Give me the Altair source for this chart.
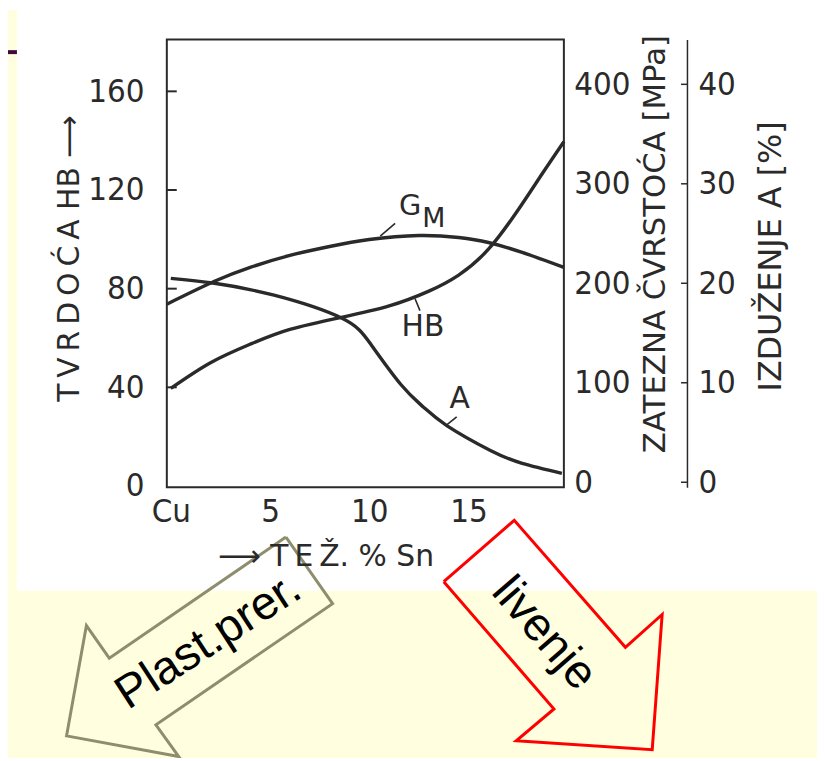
import altair as alt
import pandas as pd

# ---------------- data ----------------
# HB hardness (left axis)
sn_hb = [0.0, 2.0, 4.0, 6.0, 8.6, 11.0, 13.0, 14.5, 16.0, 17.5, 18.7, 19.8]
hb = [39.6, 50.0, 57.5, 63.5, 68.4, 73.0, 79.0, 85.5, 96.0, 112.0, 126.5, 139.6]
# tensile strength sigma_M in MPa (first right axis)
sn_gm = [-0.2, 2.2, 4.0, 6.0, 8.0, 10.0, 12.5, 14.5, 16.0, 17.7, 19.8]
gm = [179, 202, 216, 228, 237, 244, 248, 246, 241, 231, 216]
# elongation A in % (second right axis)
sn_a = [0.0, 2.2, 5.2, 8.6, 10.1, 11.6, 12.7, 13.9, 16.1, 17.7, 19.7]
a_pct = [20.5, 20.0, 18.8, 16.5, 13.8, 9.8, 7.6, 5.7, 3.2, 1.9, 0.9]

# axes
x_ticks = [0, 5, 10, 15]
hb_ticks = [0, 40, 80, 120, 160]
mpa_ticks = [0, 100, 200, 300, 400]
a_ticks = [0, 10, 20, 30, 40]

# curve labels (HB-axis units)
lab_text = ["G", "M", "HB", "A"]
lab_x = [12.05, 13.25, 12.7, 14.55]
lab_y = [113.4, 108.2, 64.3, 35.1]
lab_size = [29, 27, 30, 30]

# leader strokes of the curve labels
lead_x = [10.55, 12.3, 13.9]
lead_y = [101.3, 76.0, 24.8]
lead_x2 = [11.3, 12.55, 14.4]
lead_y2 = [106.5, 71.1, 28.0]

# ---------------- slide decorations (annotation geometry, HB-axis units) -----
bg_x = [-8.2, -8.2]
bg_x2 = [-7.75, 32.7]
bg_y = [193.0, -42.5]
bg_y2 = [-42.5, -112.0]
pl_x = [-8.2, -7.75]
pl_y = [175.9, 175.9]
ar1_x = [5.8, 8.15, -0.75, 0.4, -5.25, -4.25, -3.1, 5.8]
ar1_y = [-20.7, -47.7, -96.8, -109.7, -101.3, -56.6, -69.8, -20.7]
ar2_x = [13.75, 17.3, 22.9, 24.75, 24.25, 17.4, 19.3, 13.75]
ar2_y = [-38.8, -13.9, -65.4, -52.1, -106.9, -103.3, -90.4, -38.8]
arrow_text = ["Plast.prer.", "livenje"]
arrow_text_x = [1.9, 18.8]
arrow_text_y = [-63.0, -59.8]
arrow_text_angle = [327, 49]

# ---------------- tables ----------------
df_hb = pd.DataFrame({"x": sn_hb, "y": hb})
df_gm = pd.DataFrame({"x": sn_gm, "y": gm})
df_a = pd.DataFrame({"x": sn_a, "y": a_pct})
df_lab = pd.DataFrame({"x": lab_x, "y": lab_y, "t": lab_text, "s": lab_size})
df_lead = pd.DataFrame({"x": lead_x, "y": lead_y, "x2": lead_x2, "y2": lead_y2})
df_bg = pd.DataFrame({"x": bg_x, "x2": bg_x2, "y": bg_y, "y2": bg_y2})
df_pl = pd.DataFrame({"x": pl_x, "y": pl_y})
df_ar1 = pd.DataFrame({"x": ar1_x, "y": ar1_y, "o": list(range(len(ar1_x)))})
df_ar2 = pd.DataFrame({"x": ar2_x, "y": ar2_y, "o": list(range(len(ar2_x)))})
df_hbt = pd.DataFrame({"x": [-0.2] * 4, "x2": [0.3] * 4, "y": hb_ticks[1:]})
df_at = pd.DataFrame({"x": [25.7] * 5, "x2": [26.0] * 5, "y": a_ticks})
df_atxt0 = pd.DataFrame({"x": [arrow_text_x[0]], "y": [arrow_text_y[0]], "t": [arrow_text[0]]})
df_atxt1 = pd.DataFrame({"x": [arrow_text_x[1]], "y": [arrow_text_y[1]], "t": [arrow_text[1]]})

INK = "#2a2a2a"
NUMFONT = "'Liberation Sans Narrow', 'DejaVu Sans Condensed', 'DejaVu Sans', sans-serif"
TFONT = "DejaVu Sans"
TS = "\u2009"

xscale = alt.Scale(domain=[-0.2, 19.8], nice=False, zero=False)
hbscale = alt.Scale(domain=[-0.5, 181], nice=False, zero=False)
mpascale = alt.Scale(domain=[-5, 445], nice=False, zero=False)
ascale = alt.Scale(domain=[-0.5, 44.5], nice=False, zero=False)

x_axis = alt.Axis(
    values=x_ticks, labelExpr="datum.value == 0 ? 'Cu' : datum.label",
    ticks=False, tickSize=0, domain=False, grid=False, labelFlush=False,
    labelFont=NUMFONT, labelFontSize=33, labelColor=INK, labelPadding=25,
    labelBaseline="middle", labelOverlap=False,
    title="\u27f6   T" + TS + "E" + TS + "Ž.  %   Sn", titleX=160, titleY=70,
    titleAngle=0, titleAlign="center", titleBaseline="middle", titleFont=TFONT,
    titleFontSize=30, titleFontWeight="normal", titleColor=INK, zindex=1)

hb_axis = alt.Axis(
    orient="left", values=hb_ticks, ticks=False, tickSize=0, domain=False,
    grid=False, labelFont=NUMFONT, labelFontSize=33, labelColor=INK,
    labelPadding=23, labelBaseline="middle", labelOverlap=False,
    title=TS.join("TVRDOĆA") + "   HB   \u27f6",
    titleX=-98, titleY=220, titleAngle=270, titleAlign="center",
    titleBaseline="middle", titleFont=TFONT, titleFontSize=30,
    titleFontWeight="normal", titleColor=INK, zindex=1)

mpa_axis = alt.Axis(
    orient="right", values=mpa_ticks, ticks=False, tickSize=0, domain=False,
    grid=False, labelFont=NUMFONT, labelFontSize=33, labelColor=INK,
    labelPadding=10, labelBaseline="middle", labelOverlap=False,
    title="ZATEZNA  ČVRSTOĆA [MPa]", titleX=92, titleY=205.5,
    titleAngle=270, titleAlign="center", titleBaseline="middle",
    titleFont=TFONT, titleFontSize=31, titleFontWeight="normal",
    titleColor=INK, zindex=1)

a_axis = alt.Axis(
    orient="right", offset=124, values=a_ticks, ticks=False, tickSize=0,
    domain=True, domainColor=INK, domainWidth=1.5, grid=False,
    labelFont=NUMFONT, labelFontSize=33, labelColor=INK, labelPadding=11,
    labelBaseline="middle", labelOverlap=False,
    title="IZDUŽENJE   A   [%]", titleX=84, titleY=218, titleAngle=270,
    titleAlign="center", titleBaseline="middle", titleFont=TFONT,
    titleFontSize=32, titleFontWeight="normal", titleColor=INK, zindex=1)

X = alt.X("x:Q", scale=xscale, axis=x_axis)
Yh = alt.Y("y:Q", scale=hbscale, axis=hb_axis)

bg = alt.Chart(df_bg).mark_rect(color="#FFFFE0").encode(
    x=X, x2="x2:Q", y=Yh, y2="y2:Q")
purple = alt.Chart(df_pl).mark_line(color="#3d0c3d", strokeWidth=4).encode(x=X, y=Yh)
hb_line = alt.Chart(df_hb).mark_line(
    color=INK, strokeWidth=3.4, interpolate="natural").encode(x=X, y=Yh)
hb_ticks_m = alt.Chart(df_hbt).mark_rule(color=INK, strokeWidth=2).encode(
    x=X, x2="x2:Q", y=Yh)
labels = alt.Chart(df_lab).mark_text(
    font=TFONT, color=INK, align="center", baseline="middle").encode(
    x=X, y=Yh, text="t:N", size=alt.Size("s:Q", scale=None, legend=None))
leads = alt.Chart(df_lead).mark_rule(color=INK, strokeWidth=1.6).encode(
    x=X, y=Yh, x2="x2:Q", y2="y2:Q")
arrow1 = alt.Chart(df_ar1).mark_line(color="#8e8e6e", strokeWidth=3).encode(
    x=X, y=Yh, order="o:Q")
arrow2 = alt.Chart(df_ar2).mark_line(color="#ff0000", strokeWidth=3).encode(
    x=X, y=Yh, order="o:Q")
atext1 = alt.Chart(df_atxt0).mark_text(
    font="Liberation Sans", fontSize=47, color="black", angle=arrow_text_angle[0],
    align="center", baseline="middle").encode(x=X, y=Yh, text="t:N")
atext2 = alt.Chart(df_atxt1).mark_text(
    font="Liberation Sans", fontSize=47, color="black", angle=arrow_text_angle[1],
    align="center", baseline="middle").encode(x=X, y=Yh, text="t:N")

hb_group = alt.layer(bg, purple, hb_line, hb_ticks_m, leads, labels,
                     arrow1, arrow2, atext1, atext2)

gm_line = alt.Chart(df_gm).mark_line(
    color=INK, strokeWidth=3.4, interpolate="natural").encode(
    x=X, y=alt.Y("y:Q", scale=mpascale, axis=mpa_axis))

Ya = alt.Y("y:Q", scale=ascale, axis=a_axis)
a_line = alt.Chart(df_a).mark_line(
    color=INK, strokeWidth=3.4, interpolate="natural").encode(x=X, y=Ya)
a_ticks_m = alt.Chart(df_at).mark_rule(color=INK, strokeWidth=1.5).encode(
    x=X, x2="x2:Q", y=Ya)
a_group = alt.layer(a_line, a_ticks_m)

chart = alt.layer(hb_group, gm_line, a_group).resolve_scale(
    y="independent"
).properties(
    width=400, height=451,
    autosize=alt.AutoSizeParams(type="none"),
    padding={"left": 160, "top": 29, "right": 255, "bottom": 270},
    background="white",
).configure_view(stroke=INK, strokeWidth=2)

chart.save("out.html", embed_options={"renderer": "svg", "actions": False})
